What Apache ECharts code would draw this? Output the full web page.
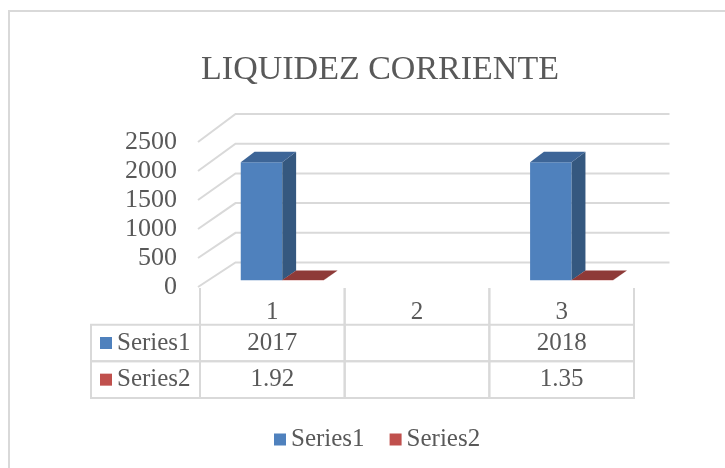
<!DOCTYPE html>
<html>
	<head>
		<meta charset="utf-8">
		<title>LIQUIDEZ CORRIENTE</title>
		<script src="https://cdn.jsdelivr.net/npm/echarts@6.0.0/dist/echarts.min.js"></script>
		<style>
			html, body { margin: 0; padding: 0; background: #fff; }
			#mainCharts { width: 725px; height: 468px; }
		</style>
	</head>
	<body>
		<div id="mainCharts"></div>

<script type="text/javascript">
	// datos
	var categories = ['1', '2', '3'];
	var seriesNames = ['Series1', 'Series2'];
	var series1 = [2017, null, 2018];
	var series2 = [1.92, null, 1.35];
	var yTicks = [0, 500, 1000, 1500, 2000, 2500];

	var FONT = '"Liberation Serif", "DejaVu Serif", serif';
	var TXT = '#595959';
	var LINE = '#D9D9D9';

	// profundidad 3D (oblicua)
	var DX = 35.5, DY0 = 24.5, DY1 = 3.5, YMAX = 2500;
	var F1 = 0.28, F2 = 0.67, BAR = 0.287;

	var faces = [
		{ front: '#4F81BD', side: '#35587F', top: '#3D6597' },
		{ front: '#C0504D', side: '#8A3735', top: '#8E3A38' }
	];

	function proj(api, cat, x, v, f) {
		var p = api.coord([cat, v]);
		return [x + f * DX, p[1] - f * (DY0 + DY1 * v / YMAX)];
	}

	function barItem(k) {
		return function (params, api) {
			var cat = api.value(0), v = api.value(1);
			if (isNaN(v)) return null;
			var band = api.size([1, 0])[0];
			var cx = api.coord([cat, 0])[0];
			var w = band * BAR;
			var x0 = k === 0 ? cx - w : cx;
			var x1 = x0 + w;
			var c = faces[k];
			var a = proj(api, cat, x0, 0, F1), b = proj(api, cat, x1, 0, F1);
			var d = proj(api, cat, x0, v, F1), e = proj(api, cat, x1, v, F1);
			var b2 = proj(api, cat, x1, 0, F2), e2 = proj(api, cat, x1, v, F2), d2 = proj(api, cat, x0, v, F2);
			return {
				type: 'group',
				children: [
					{ type: 'polygon', shape: { points: [a, b, e, d] }, style: { fill: c.front } },
					{ type: 'polygon', shape: { points: [b, b2, e2, e] }, style: { fill: c.side } },
					{ type: 'polygon', shape: { points: [d, e, e2, d2] }, style: { fill: c.top } }
				]
			};
		};
	}

	// celdas de la tabla de datos
	var cells = [];
	for (var i = 0; i < categories.length; i++) {
		cells.push({ col: i, row: 0, text: categories[i] });
		cells.push({ col: i, row: 1, text: series1[i] == null ? '' : String(series1[i]) });
		cells.push({ col: i, row: 2, text: series2[i] == null ? '' : String(series2[i]) });
	}

	function tableItem(params, api) {
		var cell = cells[params.dataIndex];
		var c = api.coord([cell.col, cell.row]);
		var sz = api.size([1, 1]);
		var x0 = c[0] - sz[0] / 2, x1 = c[0] + sz[0] / 2;
		var y0 = c[1] - sz[1] / 2, y1 = c[1] + sz[1] / 2;
		var ls = { stroke: LINE, lineWidth: 2, fill: null };
		var kids = [];
		if (cell.row === 0) {
			kids.push({ type: 'line', shape: { x1: x0, y1: y0, x2: x0, y2: y1 }, style: ls });
			kids.push({ type: 'line', shape: { x1: x1, y1: y0, x2: x1, y2: y1 }, style: ls });
		} else {
			kids.push({ type: 'rect', shape: { x: x0, y: y0, width: x1 - x0, height: y1 - y0 }, style: ls });
			if (cell.col === 0) {
				var lx = x0 - 109;
				kids.push({ type: 'rect', shape: { x: lx, y: y0, width: 109, height: y1 - y0 }, style: ls });
				kids.push({ type: 'rect', shape: { x: lx + 9, y: c[1] - 6, width: 12, height: 12 }, style: { fill: faces[cell.row - 1].front } });
				kids.push({ type: 'text', style: { text: seriesNames[cell.row - 1], x: lx + 26, y: c[1], align: 'left', verticalAlign: 'middle', fontSize: 25, fontFamily: FONT, fill: TXT } });
			}
		}
		kids.push({ type: 'text', style: { text: cell.text, x: c[0], y: cell.row === 0 ? c[1] + 6 : c[1], align: 'center', verticalAlign: 'middle', fontSize: 25, fontFamily: FONT, fill: TXT } });
		return { type: 'group', children: kids };
	}

	function gridItem(params, api) {
		var v = api.value(1);
		var y = api.coord([0, v])[1];
		var cs = params.coordSys;
		var by = y - (DY0 + DY1 * v / YMAX);
		return {
			type: 'polyline',
			shape: { points: [[cs.x - 2, y], [cs.x + DX, by], [cs.x + cs.width + DX, by]] },
			style: { stroke: LINE, lineWidth: 2, fill: null }
		};
	}

	var myChart = echarts.init(document.getElementById('mainCharts'));
	myChart.setOption({
		animation: false,
		backgroundColor: '#fff',
		textStyle: { fontFamily: FONT },
		title: {
			text: 'LIQUIDEZ CORRIENTE',
			left: 375,
			top: 48,
			textAlign: 'center',
			textStyle: { fontFamily: FONT, fontSize: 34, fontWeight: 'normal', color: TXT }
		},
		graphic: [{
			type: 'rect',
			shape: { x: 9, y: 11, width: 800, height: 600 },
			style: { stroke: LINE, lineWidth: 2, fill: null },
			silent: true
		}],
		legend: {
			data: seriesNames,
			left: 269,
			top: 422,
			icon: 'rect',
			itemWidth: 12,
			itemHeight: 12,
			itemGap: 25,
			selectedMode: false,
			textStyle: { fontFamily: FONT, fontSize: 25, color: TXT }
		},
		grid: [
			{ left: 200, right: 91, top: 142, bottom: 181 },
			{ left: 200, right: 91, top: 288, bottom: 70 }
		],
		xAxis: [
			{ type: 'category', gridIndex: 0, data: categories, show: false },
			{ type: 'category', gridIndex: 1, data: categories, show: false }
		],
		yAxis: [
			{
				type: 'value', gridIndex: 0, min: 0, max: 2500, interval: 500,
				axisLine: { show: false }, axisTick: { show: false }, splitLine: { show: false },
				axisLabel: {
					margin: 23, fontFamily: FONT, fontSize: 26, color: TXT,
					formatter: function (v) { return String(v); }
				}
			},
			{ type: 'category', gridIndex: 1, data: ['', 'Series1', 'Series2'], inverse: true, show: false }
		],
		series: [
			{
				type: 'custom', name: 'grid', silent: true, z: 1,
				xAxisIndex: 0, yAxisIndex: 0,
				renderItem: gridItem,
				data: yTicks.map(function (v) { return [0, v]; })
			},
			{
				type: 'custom', name: 'Series1', z: 2,
				xAxisIndex: 0, yAxisIndex: 0,
				itemStyle: { color: faces[0].front },
				renderItem: barItem(0),
				data: series1.map(function (v, i) { return [i, v == null ? '-' : v]; })
			},
			{
				type: 'custom', name: 'Series2', z: 3,
				xAxisIndex: 0, yAxisIndex: 0,
				itemStyle: { color: faces[1].front },
				renderItem: barItem(1),
				data: series2.map(function (v, i) { return [i, v == null ? '-' : v]; })
			},
			{
				type: 'custom', name: 'table', silent: true, z: 1,
				xAxisIndex: 1, yAxisIndex: 1,
				renderItem: tableItem,
				data: cells.map(function (c) { return [c.col, c.row]; })
			}
		]
	});
</script>

	</body>
</html>
